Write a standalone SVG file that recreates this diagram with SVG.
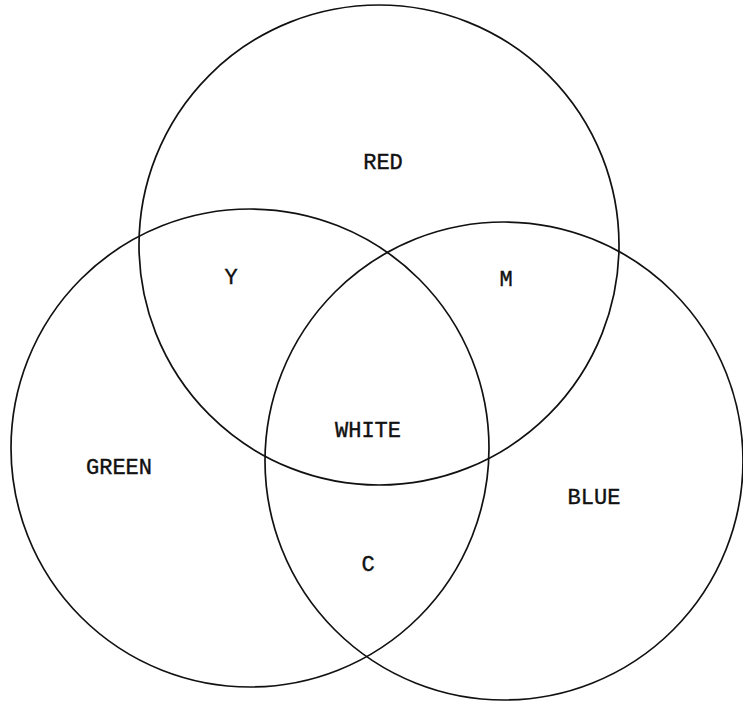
<svg xmlns="http://www.w3.org/2000/svg" width="743" height="701" viewBox="0 0 743 701">
<style>
.c{fill:none;stroke:#111;stroke-width:1.7}
.t{font-family:"Liberation Mono","DejaVu Sans Mono",monospace;font-size:22px;fill:#111;stroke:#111;stroke-width:0.4;text-anchor:middle}
</style>
<rect width="743" height="701" fill="#fff"/>
<g id="red"><circle class="c" cx="379" cy="245" r="240"/><text class="t" x="383" y="169">RED</text></g>
<g id="green"><circle class="c" cx="250" cy="448" r="239"/><text class="t" x="119" y="474">GREEN</text></g>
<g id="blue"><circle class="c" cx="504" cy="461" r="239"/><text class="t" x="594" y="504">BLUE</text></g>
<g id="yellow"><text class="t" x="231" y="284">Y</text></g>
<g id="magenta"><text class="t" x="506" y="286">M</text></g>
<g id="cyan"><text class="t" x="368" y="571">C</text></g>
<g id="white"><text class="t" x="368" y="437">WHITE</text></g>
<g id="connectors"/>
</svg>
